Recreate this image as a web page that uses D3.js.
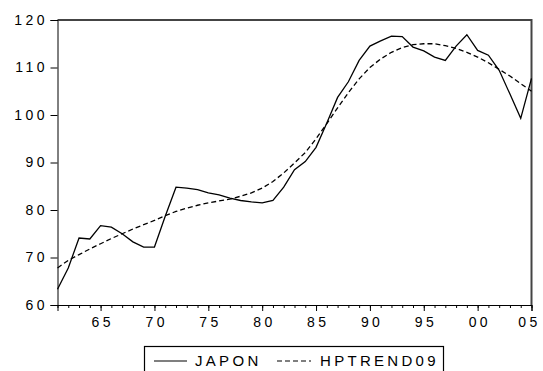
<!DOCTYPE html>
<html>
<head>
<meta charset="utf-8">
<script src="https://cdn.jsdelivr.net/npm/d3@7"></script>
<style>
  body { margin: 0; background: #fff; }
  text { font-family: "Liberation Sans", Arial, sans-serif; fill: #000; }
</style>
</head>
<body>
<div id="chart"></div>
<script>
// years 1961..2005
const years = d3.range(1961, 2006);

const japon = [63.3, 67.8, 74.1, 73.9, 76.7, 76.4, 75.0, 73.3, 72.2, 72.2,
  78.7, 84.8, 84.6, 84.3, 83.6, 83.2, 82.5, 82.0, 81.7, 81.5,
  82.0, 84.8, 88.5, 90.2, 93.2, 98.3, 103.7, 107.0, 111.5, 114.5,
  115.6, 116.6, 116.5, 114.3, 113.5, 112.2, 111.5, 114.5, 116.9, 113.6,
  112.6, 109.4, 104.4, 99.3, 107.7];

const hptrend = [67.8, 69.4, 70.6, 71.8, 72.9, 74.0, 75.0, 76.0, 76.9, 77.8,
  78.8, 79.7, 80.4, 81.0, 81.5, 81.9, 82.3, 82.9, 83.6, 84.6,
  86.0, 87.8, 89.9, 92.1, 95.0, 98.2, 101.5, 104.7, 107.6, 110.0,
  111.8, 113.2, 114.2, 114.8, 115.0, 115.0, 114.6, 114.0, 113.2, 112.2,
  111.0, 109.6, 108.2, 106.6, 105.0];

const yTicks = [60, 70, 80, 90, 100, 110, 120];
const xLabelYears = [1965, 1970, 1975, 1980, 1985, 1990, 1995, 2000, 2005];

const W = 543, H = 371;
const margin = { top: 20, left: 57.5, right: 11.5, bottom: 66 };
const width = W - margin.left - margin.right,
      height = H - margin.top - margin.bottom;

const svg = d3.select("#chart").append("svg")
  .attr("width", W).attr("height", H);

const g = svg.append("g")
  .attr("transform", "translate(" + margin.left + "," + margin.top + ")");

const x = d3.scaleLinear().domain([1961, 2005]).range([0, width]);
const y = d3.scaleLinear().domain([60, 120]).range([height, 0]);

// frame: top and right
g.append("path")
  .attr("d", "M0,0H" + width + "V" + height)
  .attr("fill", "none").attr("stroke", "#444").attr("stroke-width", 2);

// left axis
const yAxis = g.append("g")
  .call(d3.axisLeft(y).tickValues(yTicks).tickSize(7).tickPadding(6));
yAxis.select(".domain").attr("stroke", "#000");
yAxis.selectAll("text")
  .style("font-size", "14px").style("letter-spacing", "3.5px")
  .attr("dx", "3.5px").attr("fill", "#000");

// bottom axis: minor ticks every year, major every 5
const xAxis = g.append("g").attr("transform", "translate(0," + height + ")");
xAxis.call(d3.axisBottom(x).tickValues(years).tickSize(3).tickFormat(""));
xAxis.select(".domain").remove();
const xMajor = g.append("g").attr("transform", "translate(0," + height + ")")
  .call(d3.axisBottom(x).tickValues(xLabelYears).tickSize(6).tickPadding(6)
    .tickFormat(d => String(d % 100).padStart(2, "0")));
xMajor.select(".domain").attr("stroke", "#000");
xMajor.selectAll("text")
  .style("font-size", "14px").style("letter-spacing", "3.4px")
  .attr("dx", d => d === 2005 ? "-2.5px" : "1.7px").attr("fill", "#000");

const line = d3.line().x((d, i) => x(years[i])).y(d => y(d));

g.append("path").datum(hptrend)
  .attr("d", line).attr("fill", "none")
  .attr("stroke", "#000").attr("stroke-width", 1.3)
  .attr("stroke-dasharray", "5,3");

g.append("path").datum(japon)
  .attr("d", line).attr("fill", "none")
  .attr("stroke", "#000").attr("stroke-width", 1.3);

// legend
const leg = svg.append("g");
leg.append("rect")
  .attr("x", 144.5).attr("y", 346.5).attr("width", 299).attr("height", 40)
  .attr("fill", "none").attr("stroke", "#000").attr("stroke-width", 1.2);
leg.append("line").attr("x1", 154).attr("x2", 187).attr("y1", 361).attr("y2", 361)
  .attr("stroke", "#000").attr("stroke-width", 1.2);
leg.append("text").attr("x", 195).attr("y", 366)
  .style("font-size", "15px").style("letter-spacing", "3.3px").text("JAPON");
leg.append("line").attr("x1", 277).attr("x2", 311).attr("y1", 361).attr("y2", 361)
  .attr("stroke", "#000").attr("stroke-width", 1.2).attr("stroke-dasharray", "5,3");
leg.append("text").attr("x", 320).attr("y", 366)
  .style("font-size", "15px").style("letter-spacing", "3.3px").text("HPTREND09");
</script>
</body>
</html>
